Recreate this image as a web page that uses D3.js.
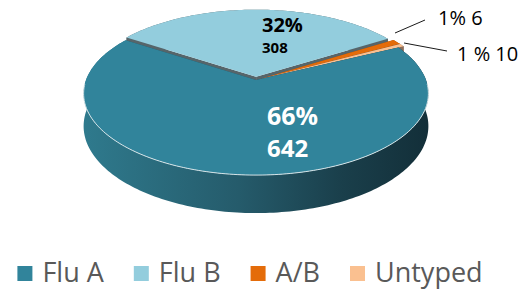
<!DOCTYPE html>
<html>
<head>
<meta charset="utf-8">
<script src="https://cdn.jsdelivr.net/npm/d3@7"></script>
<style>
  body { margin: 0; background: #fff; }
  #chart text { font-family: "Open Sans", sans-serif; }
</style>
</head>
<body>
<div id="chart"></div>
<script>
const categories = ["Flu A", "Flu B", "A/B", "Untyped"];
const counts = [642, 308, 10, 6];
const smallLabels = { "A/B": "1 % 10", "Untyped": "1% 6" };

const width = 520, height = 290;
const topColors = ["#31849b", "#93cddd", "#e46c0a", "#fac090"];
const wallColors = ["#1f5463", "#56656a", "#9a4a08", "#8d6d5a"];

// pseudo 3d projection of the disc (u right, v towards the back)
const cx = 256, cy0 = 80, A = 170, B = 79.3, p = 0.166, D = 31.7;
const proj = (a, r, h, off) => {
    const u = r * Math.sin(a) + off[0], v = r * Math.cos(a) + off[1];
    const w = 1 + p * v;
    return [cx + A * u / w, cy0 + (-B * v + D * h) / w];
};

const color = d3.scaleOrdinal().domain(categories).range(topColors);
const wall = d3.scaleOrdinal().domain(categories).range(wallColors);

const start = 64 * Math.PI / 180;
const pie = d3.pie().sort(null).value(d => d.value)
    .startAngle(start).endAngle(start + 2 * Math.PI);
const data = categories.map((c, i) => ({ cat: c, value: counts[i] }));
const arcs = pie(data);
const total = d3.sum(counts);

const svg = d3.select("#chart").append("svg")
    .attr("width", width).attr("height", height);

const defs = svg.append("defs");
const grad = defs.append("linearGradient").attr("id", "sideA")
    .attr("gradientUnits", "userSpaceOnUse")
    .attr("x1", 84).attr("x2", 428).attr("y1", 0).attr("y2", 0);
grad.append("stop").attr("offset", 0).attr("stop-color", "#2f7a8d");
grad.append("stop").attr("offset", 0.45).attr("stop-color", "#255b6b");
grad.append("stop").attr("offset", 0.75).attr("stop-color", "#1a3f4b");
grad.append("stop").attr("offset", 1).attr("stop-color", "#132f39");

const line = d3.line();
const arcPts = (a0, a1, h, off) => {
    const n = Math.max(4, Math.ceil((a1 - a0) / 0.02));
    return d3.range(n + 1).map(k => proj(a0 + (a1 - a0) * k / n, 1, h, off));
};

arcs.forEach(d => {
    const mid = (d.startAngle + d.endAngle) / 2;
    const e = d.data.cat === "Flu A" ? 0 : 0.04;
    d.off = [e * Math.sin(mid), e * Math.cos(mid)];
    d.depth = Math.cos(mid);
});

const order = arcs.slice().sort((a, b) => b.depth - a.depth);
const g = svg.append("g");

order.forEach(d => {
    const a0 = d.startAngle, a1 = d.endAngle, off = d.off;
    // radial walls
    [a0, a1].forEach(a => {
        g.append("path")
            .attr("d", line([proj(0, 0, 0, off), proj(a, 1, 0, off), proj(a, 1, 1, off), proj(0, 0, 1, off)]) + "Z")
            .attr("fill", wall(d.data.cat));
    });
    // outer wall
    const side = arcPts(a0, a1, 0, off).concat(arcPts(a0, a1, 1, off).reverse());
    g.append("path")
        .attr("d", line(side) + "Z")
        .attr("fill", d.data.cat === "Flu A" ? "url(#sideA)" : wall(d.data.cat));
    // top face
    g.append("path")
        .attr("d", line([proj(0, 0, 0, off)].concat(arcPts(a0, a1, 0, off))) + "Z")
        .attr("fill", color(d.data.cat));
    // light rim on the front edge
    const f0 = Math.max(a0, Math.PI / 2 + 0.05), f1 = Math.min(a1, 3 * Math.PI / 2 - 0.05);
    if (f1 > f0) {
        g.append("path")
            .attr("d", line(arcPts(f0, f1, 0, off)))
            .attr("fill", "none")
            .attr("stroke", "#d4e3e7")
            .attr("stroke-width", 1);
    }
});

// labels of the two big slices
const pct = v => Math.round(v / total * 100) + "%";
const big = [
    { cat: "Flu A", x: 267, y1: 125, y2: 157, s1: 25, s2: 24, fill: "#fff" },
    { cat: "Flu B", x: 262, y1: 32, y2: 53, s1: 20, s2: 15, fill: "#000" }
];
big.forEach(b => {
    const v = counts[categories.indexOf(b.cat)];
    svg.append("text").attr("x", b.x).attr("y", b.y1)
        .attr("font-size", b.s1).attr("font-weight", "bold").attr("fill", b.fill)
        .text(pct(v));
    svg.append("text").attr("x", b.x).attr("y", b.y2)
        .attr("font-size", b.s2).attr("font-weight", "bold").attr("fill", b.fill)
        .text(v);
});

// small slices: leader lines and labels
const small = [
    { cat: "Untyped", l: [[395, 33], [425, 20]], tx: 438, ty: 25 },
    { cat: "A/B", l: [[404, 43], [447, 51]], tx: 457, ty: 61 }
];
small.forEach(s => {
    svg.append("path").attr("d", line(s.l))
        .attr("stroke", "#1a1a1a").attr("stroke-width", 1).attr("fill", "none");
    svg.append("text").attr("x", s.tx).attr("y", s.ty)
        .attr("font-size", 20).attr("fill", "#000")
        .text(smallLabels[s.cat]);
});

// legend
const legend = svg.append("g");
const gap = 30;
let lx = 0;
categories.forEach(c => {
    const item = legend.append("g").attr("transform", `translate(${lx},0)`);
    item.append("rect").attr("x", 0).attr("y", 266).attr("width", 15).attr("height", 15)
        .attr("fill", color(c));
    const t = item.append("text").attr("x", 25).attr("y", 282)
        .attr("font-size", 27).attr("fill", "#595959").text(c);
    lx += 25 + t.node().getComputedTextLength() + gap;
});
const lw = lx - gap;
legend.attr("transform", `translate(${250 - lw / 2},0)`);
</script>
</body>
</html>
